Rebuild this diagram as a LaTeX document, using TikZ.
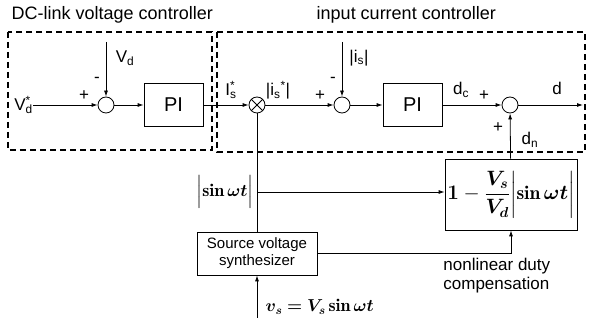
\documentclass[tikz,border=0pt]{standalone}
\usepackage{amsmath,amssymb,bm}
\usepackage{fontspec}
\setsansfont{Liberation Sans}
\usetikzlibrary{positioning,arrows.meta,calc}
\newcommand{\supsub}[3]{#1\rlap{\textsuperscript{#3}}\textsubscript{#2}}
\newcommand{\nlterm}{$\displaystyle\bm{1}-\frac{\bm{V_s}}{\bm{V_d}}\biggl\vert\bm{\sin\omega t}\biggr\vert$}
\newcommand{\abssin}{$\Bigl\vert\bm{\sin\omega t}\Bigr\vert$}

\begin{document}
\begin{tikzpicture}[x=1pt, y=-1pt, >={Latex[length=6pt,width=4pt]}, line width=0.8pt,
  every node/.style={font=\sffamily\fontsize{17}{19}\selectfont},
  sumnode/.style={draw, circle, minimum size=16pt, inner sep=0pt},
  blockbox/.style={draw, minimum width=59pt, minimum height=43pt, font=\sffamily\fontsize{20}{22}\selectfont},
  ctrlzone/.style={draw, line width=1.4pt, dash pattern=on 6pt off 4pt}]
  \useasboundingbox (0,0) rectangle (590,323);

  % the two controller zones
  \node[anchor=west, font=\sffamily\fontsize{18}{20}\selectfont] (dctitle) at (8,15) {DC-link voltage controller};
  \node[anchor=west, font=\sffamily\fontsize{18}{20}\selectfont] (ictitle) at (313,15) {input current controller};
  \draw[ctrlzone] (8,32) rectangle (212,150);
  \draw[ctrlzone] (217,32) rectangle (585,152);

  % voltage loop
  \node[anchor=west, inner sep=0pt] (vdref) at (14,105) {\supsub{V}{d}{*}};
  \node[sumnode] (sum1) at (106,105) {};
  \coordinate (vdtop) at (106,42);
  \node (vdfb) at (125,58) {V\textsubscript{d}};
  \node (p1) at (84,96) {+};
  \node (m1) at (97,80) {-};
  \node[blockbox] (pi1) at (173.5,105) {PI};
  \node (isref) at (231,90) {\supsub{I}{s}{*}};

  \draw[->] (vdref) -- (sum1);
  \draw[->] (vdtop) -- (sum1);
  \draw[->] (sum1) -- (pi1);

  % multiplier
  \node[sumnode] (mult) at (257,105) {};
  \draw (mult.north west) -- (mult.south east) (mult.north east) -- (mult.south west);
  \draw[->] (pi1) -- (mult);

  % current loop
  \node (isabs) at (278,90) {\textbar i\textsubscript{s}\textsuperscript{*}\textbar};
  \node[sumnode] (sum2) at (342,105) {};
  \coordinate (istop) at (342,42);
  \node (isfb) at (359,58) {\textbar i\textsubscript{s}\textbar};
  \node (p2) at (320,96) {+};
  \node (m2) at (333,80) {-};
  \node[blockbox] (pi2) at (412.5,105) {PI};
  \node (dcl) at (461,90) {d\textsubscript{c}};
  \node (p3) at (484,96) {+};
  \node[sumnode] (sum3) at (510,105) {};
  \coordinate (dout) at (583,105);
  \node (dl) at (557,88) {d};
  \node (p4) at (498,128) {+};
  \node (dnl) at (530,140) {d\textsubscript{n}};

  \draw[->] (mult) -- (sum2);
  \draw[->] (istop) -- (sum2);
  \draw[->] (sum2) -- (pi2);
  \draw[->] (pi2) -- (sum3);
  \draw[->] (sum3) -- (dout);

  % feedforward part
  \node[draw, minimum width=132pt, minimum height=71pt, inner sep=0pt,
    font=\fontsize{19.5}{21}\selectfont] (nlcomp) at (511,194.5) {\nlterm};
  \node[draw, minimum width=120pt, minimum height=43pt, align=center,
    font=\sffamily\fontsize{15}{17}\selectfont] (src) at (257,253.5) {Source voltage\\synthesizer};
  \coordinate (sbranch) at (257,192);
  \node[anchor=east, inner sep=1pt, font=\fontsize{18}{20}\selectfont] (sinl) at (255,192) {\abssin};
  \coordinate (vsin) at (257,318);
  \node[anchor=west, font=\fontsize{18}{20}\selectfont] (vsl) at (262,307) {$\bm{v_s=V_s\sin\omega t}$};
  \node[align=left, anchor=north west, inner sep=0pt] (nlnote) at (443,258) {nonlinear duty\\compensation};

  \draw (mult) -- (src);
  \draw[->] (sbranch) -- (sbranch -| nlcomp.west);
  \draw[->] (src.east) -| (nlcomp.south);
  \draw[->] (nlcomp) -- (sum3);
  \draw[->] (vsin) -- (src);
\end{tikzpicture}
\end{document}
